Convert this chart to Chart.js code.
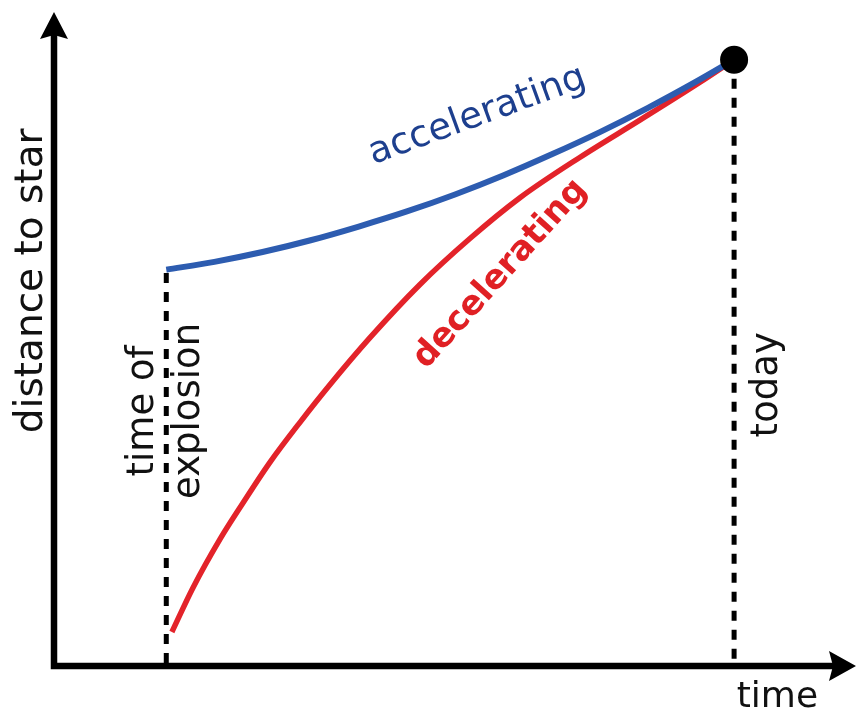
<!DOCTYPE html>
<html>
<head>
<meta charset="utf-8">
<script src="https://cdn.jsdelivr.net/npm/chart.js@4/dist/chart.umd.min.js"></script>
<style>
  html, body { margin: 0; padding: 0; background: #fff; }
  canvas { display: block; }
</style>
</head>
<body>
<canvas id="chart" width="857" height="711"></canvas>
<script>
// values (time -> distance, arbitrary units 0..10)
const acceleratingTime = [1.40, 2.00, 2.60, 3.20, 3.80, 4.40, 5.00, 5.60, 6.20, 6.80, 7.40, 8.00, 8.48];
const acceleratingDist = [6.06, 6.18, 6.33, 6.51, 6.72, 6.95, 7.21, 7.50, 7.82, 8.16, 8.53, 8.93, 9.27];

const deceleratingTime = [1.47, 1.73, 2.07, 2.36, 2.69, 3.07, 3.44, 3.94, 4.56, 5.19, 5.81, 6.56, 7.31, 8.06, 8.48];
const deceleratingDist = [0.52, 1.19, 1.94, 2.50, 3.11, 3.73, 4.30, 5.02, 5.83, 6.54, 7.16, 7.78, 8.35, 8.93, 9.27];

const explosionTime = 1.40;
const todayTime = 8.48;
const todayDist = 9.27;

const axisMax = 10;

const labelTexts = ["distance to star", "time", "time of", "explosion", "today", "accelerating", "decelerating"];

function toPoints(xs, ys) {
  return xs.map((x, i) => ({ x: x, y: ys[i] }));
}

// where each label sits (in axis units) and how it looks
const labelLayout = [
  { at: [-0.15, 5.89], angle: -90, font: "39px 'DejaVu Sans'", color: "#111" },
  { at: [9.02, -0.63], angle: 0, font: "36px 'DejaVu Sans'", color: "#111" },
  { at: [1.23, 3.90], angle: -90, font: "37px 'DejaVu Sans'", color: "#111" },
  { at: [1.81, 3.90], angle: -90, font: "37px 'DejaVu Sans'", color: "#111" },
  { at: [9.01, 4.30], angle: -90, font: "37px 'DejaVu Sans'", color: "#111" },
  { at: [5.32, 8.27], angle: -20, font: "37px 'DejaVu Sans'", color: "#1d3f8e" },
  { at: [5.65, 5.90], angle: -48, font: "bold 34px 'DejaVu Sans'", color: "#e02024" }
];

const sketchPlugin = {
  id: "sketch",
  afterDatasetsDraw(chart) {
    const ctx = chart.ctx;
    const xs = chart.scales.x;
    const ys = chart.scales.y;
    const x0 = xs.getPixelForValue(0);
    const y0 = ys.getPixelForValue(0);
    const xEnd = xs.getPixelForValue(axisMax);
    const yEnd = ys.getPixelForValue(axisMax);

    ctx.save();
    // axes
    ctx.strokeStyle = "#000";
    ctx.fillStyle = "#000";
    ctx.lineWidth = 6.5;
    ctx.beginPath();
    ctx.moveTo(x0, y0 + 3.25);
    ctx.lineTo(x0, yEnd + 22);
    ctx.moveTo(x0 - 3.25, y0);
    ctx.lineTo(xEnd - 22, y0);
    ctx.stroke();

    // arrow heads
    ctx.beginPath();
    ctx.moveTo(x0, yEnd);
    ctx.lineTo(x0 + 14, yEnd + 27);
    ctx.lineTo(x0, yEnd + 23);
    ctx.lineTo(x0 - 14, yEnd + 27);
    ctx.closePath();
    ctx.fill();

    ctx.beginPath();
    ctx.moveTo(xEnd, y0);
    ctx.lineTo(xEnd - 27, y0 - 15);
    ctx.lineTo(xEnd - 23, y0);
    ctx.lineTo(xEnd - 27, y0 + 15);
    ctx.closePath();
    ctx.fill();

    // text labels
    ctx.textAlign = "center";
    ctx.textBaseline = "alphabetic";
    labelTexts.forEach((text, i) => {
      const l = labelLayout[i];
      ctx.save();
      ctx.translate(xs.getPixelForValue(l.at[0]), ys.getPixelForValue(l.at[1]));
      ctx.rotate(l.angle * Math.PI / 180);
      ctx.font = l.font;
      ctx.fillStyle = l.color;
      ctx.fillText(text, 0, 0);
      ctx.restore();
    });
    ctx.restore();
  }
};

function init() {
  const canvas = document.getElementById("chart");

  new Chart(canvas.getContext("2d"), {
    type: "line",
    data: {
      datasets: [
        {
          label: "today",
          data: [{ x: todayTime, y: todayDist }],
          showLine: false,
          pointRadius: 14,
          pointBackgroundColor: "#000",
          pointBorderWidth: 0
        },
        {
          label: "accelerating",
          data: toPoints(acceleratingTime, acceleratingDist),
          borderColor: "#2d5cb0",
          borderWidth: 6,
          pointRadius: 0,
          cubicInterpolationMode: "monotone",
          borderCapStyle: "butt"
        },
        {
          label: "decelerating",
          data: toPoints(deceleratingTime, deceleratingDist),
          borderColor: "#e3232a",
          borderWidth: 5.5,
          pointRadius: 0,
          cubicInterpolationMode: "monotone",
          borderCapStyle: "butt"
        },
        {
          label: "time of explosion",
          data: [{ x: explosionTime, y: acceleratingDist[0] - 0.05 }, { x: explosionTime, y: 0 }],
          borderColor: "#000",
          borderWidth: 5,
          borderDash: [10, 9],
          pointRadius: 0
        },
        {
          label: "today line",
          data: [{ x: todayTime, y: todayDist }, { x: todayTime, y: 0 }],
          borderColor: "#000",
          borderWidth: 5,
          borderDash: [10, 9],
          pointRadius: 0
        }
      ]
    },
    options: {
      responsive: false,
      devicePixelRatio: 1,
      animation: false,
      layout: { autoPadding: false, padding: { left: 54, right: 1, top: 12, bottom: 45 } },
      plugins: { legend: { display: false }, tooltip: { enabled: false } },
      scales: {
        x: { type: "linear", min: 0, max: axisMax, display: false },
        y: { type: "linear", min: 0, max: axisMax, display: false }
      }
    },
    plugins: [sketchPlugin]
  });
}

if (document.readyState === "loading") {
  document.addEventListener("DOMContentLoaded", init);
} else {
  init();
}
</script>
</body>
</html>
